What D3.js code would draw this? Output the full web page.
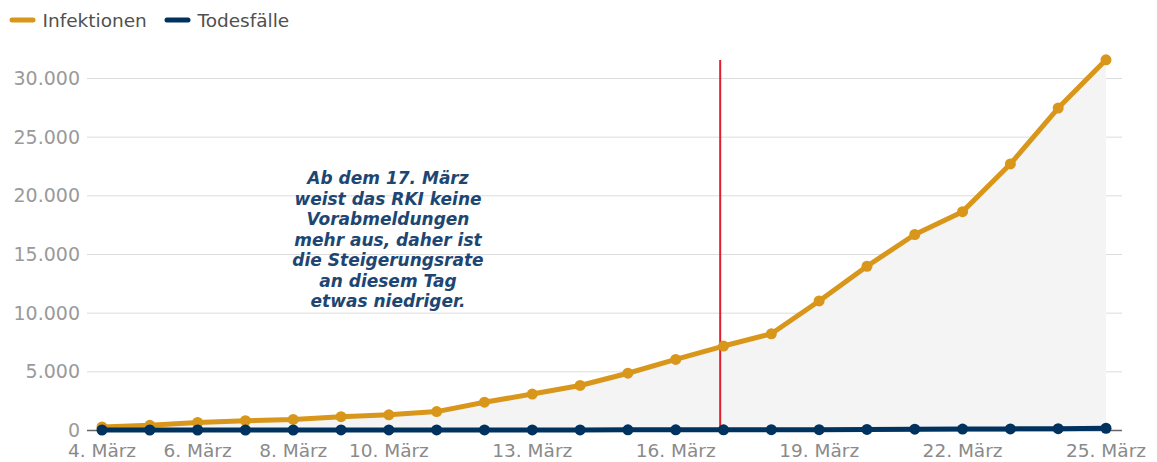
<!DOCTYPE html>
<html>
<head>
<meta charset="utf-8">
<script src="https://cdn.jsdelivr.net/npm/d3@7"></script>
<style>
  html, body { margin: 0; padding: 0; background: #fff; }
  svg { display: block; }
</style>
</head>
<body>
<svg id="chart" width="1157" height="462"></svg>
<script>
'use strict';

// data: 4. - 25. März
var days = d3.range(4, 26);
var infektionen = [262, 400, 639, 795, 902, 1139, 1296, 1567, 2369, 3062, 3795, 4838,
    6012, 7156, 8198, 10999, 13957, 16662, 18610, 22672, 27436, 31554];
var todesfaelle = [0, 0, 0, 0, 0, 2, 2, 3, 5, 5, 8, 12, 13, 17, 26, 28, 44, 67, 84, 94, 114, 149];
var xTickDays = [4, 6, 8, 10, 13, 16, 19, 22, 25];
var yTicks = [0, 5000, 10000, 15000, 20000, 25000, 30000];
var markerDay = 16.93;
var noteLines = [
    'Ab dem 17. März',
    'weist das RKI keine',
    'Vorabmeldungen',
    'mehr aus, daher ist',
    'die Steigerungsrate',
    'an diesem Tag',
    'etwas niedriger.'
];

var series = [
    { name: 'Infektionen', values: infektionen, color: '#d8961b' },
    { name: 'Todesfälle', values: todesfaelle, color: '#00325f' }
];

var svg = d3.select('#chart');
var plotLeft = 87, plotRight = 1122;
var font = 'DejaVu Sans, Verdana, sans-serif';

var x = d3.scaleLinear().domain([4, 25]).range([102, 1106]);
var y = d3.scaleLinear().domain([0, 30000]).range([430, 78]);

// grid
svg.append('g')
    .selectAll('line')
    .data(yTicks.filter(function (d) { return d > 0; }))
    .enter()
    .append('line')
    .attr('x1', plotLeft)
    .attr('x2', plotRight)
    .attr('y1', function (d) { return y(d) + 0.5; })
    .attr('y2', function (d) { return y(d) + 0.5; })
    .attr('stroke', '#dcdcdc')
    .attr('stroke-width', 1);

// y labels
var fmt = function (v) { return d3.format(',')(v).replace(/,/g, '.'); };
svg.append('g')
    .selectAll('text')
    .data(yTicks)
    .enter()
    .append('text')
    .attr('x', 80)
    .attr('y', function (d) { return y(d); })
    .attr('dy', '0.36em')
    .attr('text-anchor', 'end')
    .attr('font-family', font)
    .attr('font-size', 19)
    .attr('fill', '#9a9a9a')
    .text(fmt);

// area under infections
svg.append('path')
    .datum(infektionen)
    .attr('d', d3.area()
        .x(function (d, i) { return x(days[i]); })
        .y0(y(0))
        .y1(function (d) { return y(d); }))
    .attr('fill', '#f4f4f4');

// zero axis
svg.append('line')
    .attr('x1', plotLeft)
    .attr('x2', plotRight)
    .attr('y1', y(0) + 0.5)
    .attr('y2', y(0) + 0.5)
    .attr('stroke', '#666')
    .attr('stroke-width', 1.5);

// x labels
svg.append('g')
    .selectAll('text')
    .data(xTickDays)
    .enter()
    .append('text')
    .attr('x', function (d) { return x(d); })
    .attr('y', 457)
    .attr('text-anchor', 'middle')
    .attr('font-family', font)
    .attr('font-size', 18.5)
    .attr('fill', '#8a8a8a')
    .text(function (d) { return d + '. März'; });

// marker line
svg.append('line')
    .attr('x1', x(markerDay))
    .attr('x2', x(markerDay))
    .attr('y1', 60)
    .attr('y2', y(0))
    .attr('stroke', '#e2202c')
    .attr('stroke-width', 2);

// annotation
svg.append('text')
    .attr('font-family', font)
    .attr('font-size', 17)
    .attr('font-weight', 'bold')
    .attr('font-style', 'italic')
    .attr('fill', '#1e4672')
    .attr('text-anchor', 'middle')
    .selectAll('tspan')
    .data(noteLines)
    .enter()
    .append('tspan')
    .attr('x', 388)
    .attr('y', function (d, i) { return 184 + i * 20.5; })
    .text(function (d) { return d; });

// lines + dots
var line = d3.line()
    .x(function (d, i) { return x(days[i]); })
    .y(function (d) { return y(d); });

series.forEach(function (s) {
    var g = svg.append('g');
    g.append('path')
        .datum(s.values)
        .attr('d', line)
        .attr('fill', 'none')
        .attr('stroke', s.color)
        .attr('stroke-width', 5)
        .attr('stroke-linejoin', 'round');
    g.selectAll('circle')
        .data(s.values)
        .enter()
        .append('circle')
        .attr('cx', function (d, i) { return x(days[i]); })
        .attr('cy', function (d) { return y(d); })
        .attr('r', 5.5)
        .attr('fill', s.color);
});

// legend
var legend = svg.append('g')
    .selectAll('g')
    .data(series)
    .enter()
    .append('g')
    .attr('transform', function (d, i) { return 'translate(' + [12, 167][i] + ',20)'; });
legend.append('line')
    .attr('x1', 0)
    .attr('x2', 21)
    .attr('stroke', function (d) { return d.color; })
    .attr('stroke-width', 5)
    .attr('stroke-linecap', 'round');
legend.append('text')
    .attr('x', 30.5)
    .attr('dy', '0.36em')
    .attr('font-family', font)
    .attr('font-size', 18.5)
    .attr('fill', '#505050')
    .text(function (d) { return d.name; });
</script>
</body>
</html>
